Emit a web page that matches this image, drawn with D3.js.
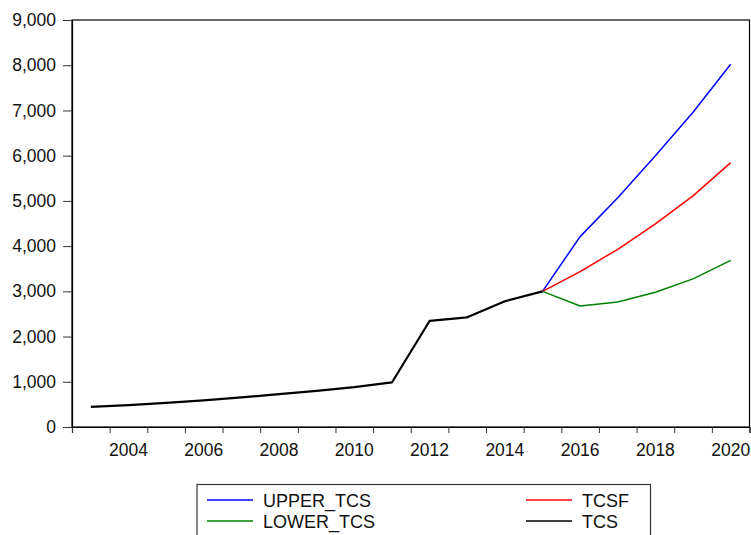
<!DOCTYPE html>
<html>
<head>
<meta charset="utf-8">
<script src="https://cdn.jsdelivr.net/npm/d3@7"></script>
<style>
  html, body { margin: 0; padding: 0; background: #fff; }
  svg { display: block; font-family: "Liberation Sans", Arial, sans-serif; }
</style>
</head>
<body>
<svg id="chart" width="751" height="535"></svg>
<script>
// Annual TCS history and forecast bands
const histYears = [2003, 2004, 2005, 2006, 2007, 2008, 2009, 2010, 2011, 2012, 2013, 2014, 2015];
const tcs = [445, 485, 535, 590, 655, 725, 800, 880, 985, 2345, 2425, 2780, 3000];

const fcYears = [2015, 2016, 2017, 2018, 2019, 2020];
const upperTcs = [3000, 4210, 5070, 6000, 6960, 8020];
const tcsf = [3000, 3435, 3930, 4490, 5110, 5845];
const lowerTcs = [3000, 2675, 2765, 2980, 3275, 3685];

const yTicks = [0, 1000, 2000, 3000, 4000, 5000, 6000, 7000, 8000, 9000];
const xTickYears = [2003, 2004, 2005, 2006, 2007, 2008, 2009, 2010, 2011, 2012,
                    2013, 2014, 2015, 2016, 2017, 2018, 2019, 2020, 2021];
const xLabelYears = [2004, 2006, 2008, 2010, 2012, 2014, 2016, 2018, 2020];

const legendItems = [
  { name: "UPPER_TCS", color: "#0000ff", col: 0, row: 0 },
  { name: "TCSF", color: "#ff0000", col: 1, row: 0 },
  { name: "LOWER_TCS", color: "#008000", col: 0, row: 1 },
  { name: "TCS", color: "#000000", col: 1, row: 1 }
];

const svg = d3.select("#chart");
const plotL = 72, plotR = 749.5, plotT = 20, plotB = 427;

// each year is a band; points sit in the middle of their band
const x = d3.scaleLinear().domain([2003, 2021]).range([plotL, plotR]);
const y = d3.scaleLinear().domain([0, 9000]).range([plotB, plotT]);

// frame
svg.append("rect")
  .attr("x", plotL).attr("y", plotT)
  .attr("width", plotR - plotL).attr("height", plotB - plotT)
  .attr("fill", "none").attr("stroke", "#000").attr("stroke-width", 1.2);

// y axis
const yAxis = svg.append("g")
  .attr("transform", `translate(${plotL},0)`)
  .call(d3.axisLeft(y).tickValues(yTicks).tickFormat(d3.format(",")).tickSize(9).tickPadding(7));
yAxis.select(".domain").attr("stroke", "#000").attr("stroke-width", 1.2);
yAxis.selectAll(".tick line").attr("stroke", "#333");
yAxis.selectAll(".tick text").attr("font-size", "17.5px").attr("fill", "#111")
  .attr("font-family", "Liberation Sans, Arial, sans-serif");

// x axis: band-edge ticks
const xAxis = svg.append("g")
  .attr("transform", `translate(0,${plotB})`)
  .call(d3.axisBottom(x).tickValues(xTickYears).tickFormat("").tickSize(6));
xAxis.select(".domain").attr("stroke", "#000").attr("stroke-width", 1.2);
xAxis.selectAll(".tick line").attr("stroke", "#333");

// x labels centred in their year bands
svg.append("g").selectAll("text")
  .data(xLabelYears)
  .join("text")
  .attr("x", d => x(d + 0.5))
  .attr("y", plotB + 29)
  .attr("text-anchor", "middle")
  .attr("font-size", "17.5px")
  .attr("fill", "#111")
  .text(d => d);

const line = d3.line()
  .x(d => x(d[0] + 0.5))
  .y(d => y(d[1]));

const series = [
  { years: fcYears, vals: upperTcs, color: "#0000ff", w: 1.5 },
  { years: fcYears, vals: tcsf, color: "#ff0000", w: 1.5 },
  { years: fcYears, vals: lowerTcs, color: "#008000", w: 1.5 },
  { years: histYears, vals: tcs, color: "#000000", w: 2.2 }
];

svg.append("g").selectAll("path")
  .data(series)
  .join("path")
  .attr("d", s => line(s.years.map((yr, i) => [yr, s.vals[i]])))
  .attr("fill", "none")
  .attr("stroke", s => s.color)
  .attr("stroke-width", s => s.w)
  .attr("stroke-linejoin", "round");

// legend
const lg = svg.append("g");
lg.append("rect")
  .attr("x", 197).attr("y", 484.5)
  .attr("width", 453.5).attr("height", 70)
  .attr("fill", "#fff").attr("stroke", "#333").attr("stroke-width", 1.2);

const colX = [207, 526];
const rowY = [500, 521];
const items = lg.selectAll("g.item").data(legendItems).join("g").attr("class", "item");
items.append("line")
  .attr("x1", d => colX[d.col]).attr("x2", d => colX[d.col] + 46)
  .attr("y1", d => rowY[d.row]).attr("y2", d => rowY[d.row])
  .attr("stroke", d => d.color).attr("stroke-width", 1.5);
items.append("text")
  .attr("x", d => colX[d.col] + 56)
  .attr("y", d => rowY[d.row] + 6.5)
  .attr("font-size", "18px")
  .attr("fill", "#111")
  .text(d => d.name);
</script>
</body>
</html>
